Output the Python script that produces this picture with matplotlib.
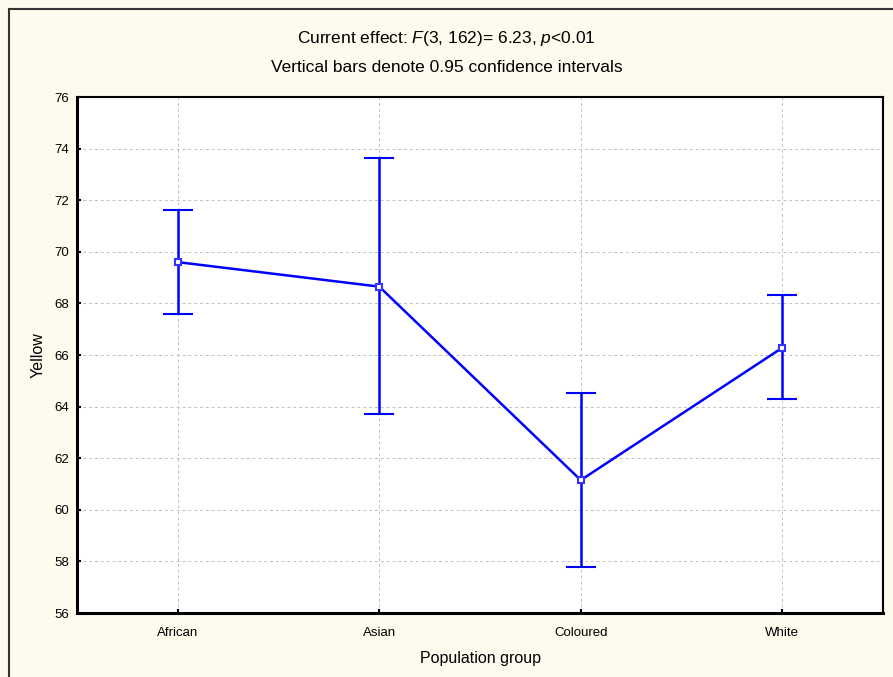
import matplotlib.pyplot as plt
from matplotlib.patches import Rectangle

groups = ['African', 'Asian', 'Coloured', 'White']
means = [69.6, 68.65, 61.15, 66.28]
upper = [71.62, 73.62, 64.53, 68.32]
lower = [67.58, 63.72, 57.78, 64.28]

plt.rcParams['font.family'] = ['Liberation Sans', 'DejaVu Sans']
plt.rcParams['mathtext.fontset'] = 'custom'
plt.rcParams['mathtext.rm'] = 'Liberation Sans'
plt.rcParams['mathtext.it'] = 'Liberation Sans:italic'

bg = '#fefaee'
fig = plt.figure(figsize=(8.93, 6.77), dpi=100, facecolor=bg)
fig.patches.append(Rectangle((9 / 893, -0.1), 1.2, (677 - 9) / 677 + 0.1,
                             transform=fig.transFigure, fill=False,
                             edgecolor='#333333', lw=1.5))
ax = fig.add_axes([77 / 893, 64 / 677, 806 / 893, 516 / 677])
ax.set_facecolor('white')

x = list(range(len(groups)))
err = [[m - l for m, l in zip(means, lower)], [u - m for u, m in zip(upper, means)]]
ax.errorbar(x, means, yerr=err, color='#0000ff', lw=1.8, elinewidth=1.8,
            capsize=11, capthick=1.8, marker='s', ms=4.5, mfc='white',
            mec='#3333ff', mew=1.5, zorder=3)

ax.set_xlim(-0.5, 3.5)
ax.set_ylim(56, 76)
ax.set_yticks(range(56, 77, 2))
ax.set_xticks(x)
ax.set_xticklabels(groups)
ax.grid(True, color='#c0c0c0', ls=(0, (3, 3)), lw=0.7)
ax.set_axisbelow(True)
ax.tick_params(direction='in', length=3, width=1.5, labelsize=9.5, pad=6)
ax.tick_params(axis='x', pad=10)
for s in ax.spines.values():
    s.set_linewidth(1.5)
ax.spines['left'].set_linewidth(2.2)
ax.spines['bottom'].set_linewidth(2.2)

ax.set_xlabel('Population group', fontsize=11.5, labelpad=9)
ax.set_ylabel('Yellow', fontsize=11.5, labelpad=6)

fig.text(0.5, 1 - 38 / 677, r'Current effect: $F$(3, 162)= 6.23, $p$<0.01',
         ha='center', va='center', fontsize=12.5)
fig.text(0.5, 1 - 68 / 677, 'Vertical bars denote 0.95 confidence intervals',
         ha='center', va='center', fontsize=12.5)

fig.savefig('out.png', dpi=100, facecolor=bg)
